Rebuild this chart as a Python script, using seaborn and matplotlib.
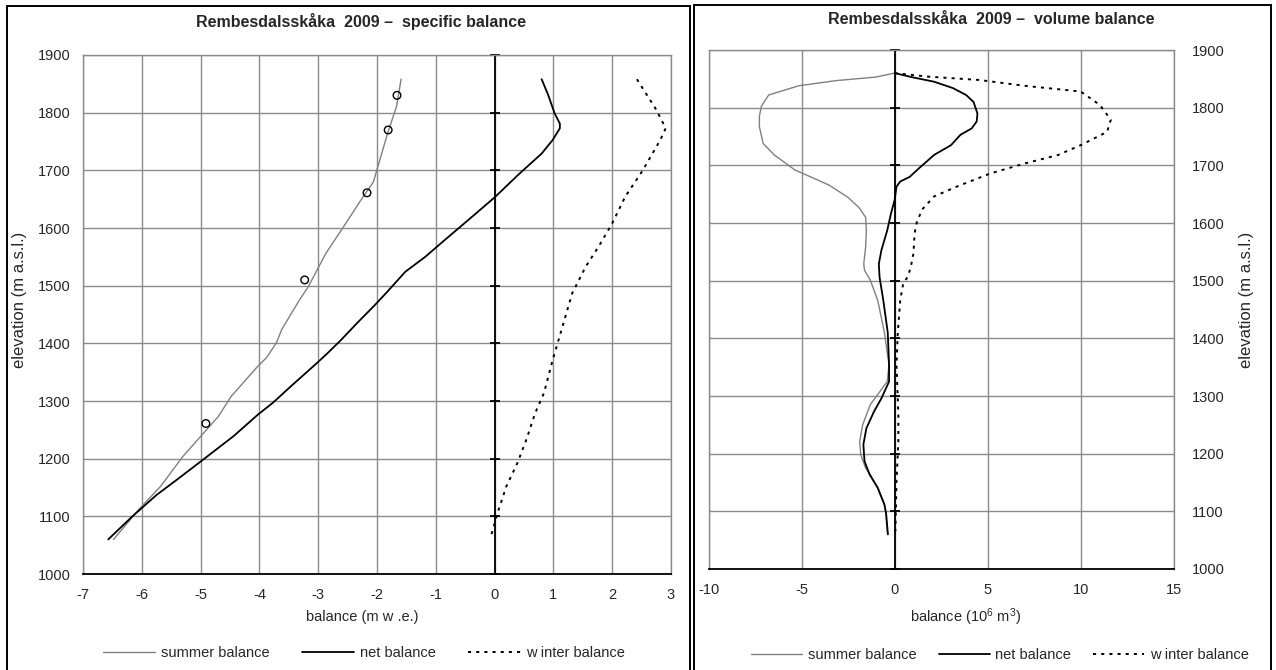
import numpy as np
import pandas as pd
import matplotlib
matplotlib.use("Agg")
import matplotlib.pyplot as plt
from matplotlib.patches import Rectangle
from matplotlib.lines import Line2D
from matplotlib.ticker import MultipleLocator
import seaborn as sns

# ---------------- data ----------------
summer_spec_elev = [1858, 1810, 1764, 1698, 1680, 1649, 1602, 1556, 1498, 1475, 1424, 1401,
                    1375, 1360, 1308, 1273, 1204, 1152, 1112, 1060]
summer_spec = [-1.59, -1.67, -1.82, -2.01, -2.06, -2.27, -2.57, -2.87, -3.17, -3.32, -3.62, -3.71,
               -3.88, -4.03, -4.48, -4.70, -5.30, -5.68, -6.05, -6.48]

net_spec_elev = [1858, 1831, 1799, 1781, 1773, 1753, 1729, 1695, 1654, 1625, 1605, 1579, 1550,
                 1524, 1490, 1466, 1435, 1406, 1384, 1366, 1325, 1297, 1276, 1239, 1195, 1163,
                 1137, 1100, 1060]
net_spec = [0.80, 0.91, 1.02, 1.11, 1.11, 0.99, 0.80, 0.43, 0.01, -0.32, -0.55, -0.85, -1.18,
            -1.52, -1.82, -2.04, -2.34, -2.61, -2.83, -3.02, -3.47, -3.77, -4.03, -4.44, -5.00,
            -5.41, -5.75, -6.16, -6.57]

winter_spec_elev = [1858, 1805, 1773, 1753, 1700, 1654, 1608, 1568, 1533, 1487, 1424, 1372,
                    1314, 1279, 1233, 1193, 1152, 1106, 1066]
winter_spec = [2.42, 2.75, 2.91, 2.82, 2.52, 2.22, 2.00, 1.77, 1.55, 1.32, 1.14, 0.99,
               0.84, 0.69, 0.54, 0.39, 0.20, 0.05, -0.06]

stake_elev = [1830, 1770, 1661, 1510, 1261]
stake_bal = [-1.66, -1.81, -2.17, -3.23, -4.91]

summer_vol_elev = [1860, 1853, 1847, 1838, 1822, 1802, 1785, 1767, 1738, 1718, 1692, 1666,
                   1645, 1627, 1610, 1587, 1558, 1529, 1518, 1501, 1466, 1410, 1354, 1325,
                   1307, 1285, 1250, 1221, 1198, 1175, 1164, 1141, 1112, 1097, 1060]
summer_vol = [0.0, -1.01, -3.13, -5.15, -6.77, -7.17, -7.27, -7.27, -7.07, -6.47, -5.36, -3.54,
              -2.53, -1.92, -1.56, -1.52, -1.56, -1.66, -1.62, -1.31, -0.91, -0.55, -0.30, -0.40,
              -0.81, -1.31, -1.72, -1.88, -1.82, -1.56, -1.31, -0.93, -0.56, -0.48, -0.38]

net_vol_elev = [1860, 1853, 1845, 1834, 1822, 1810, 1790, 1776, 1764, 1753, 1735, 1718, 1695,
                1680, 1672, 1663, 1640, 1616, 1587, 1553, 1529, 1506, 1466, 1410, 1354, 1325,
                1296, 1273, 1244, 1216, 1187, 1164, 1141, 1112, 1097, 1060]
net_vol = [0.0, 0.91, 2.12, 3.13, 3.84, 4.24, 4.45, 4.41, 4.14, 3.54, 3.03, 2.12, 1.31,
           0.81, 0.30, 0.10, 0.0, -0.20, -0.40, -0.71, -0.85, -0.81, -0.61, -0.37, -0.30, -0.30,
           -0.71, -1.11, -1.52, -1.68, -1.62, -1.35, -0.91, -0.55, -0.46, -0.36]

winter_vol_elev = [1860, 1854, 1848, 1838, 1828, 1805, 1779, 1758, 1735, 1718, 1703, 1686,
                   1663, 1646, 1625, 1604, 1581, 1547, 1524, 1507, 1495, 1466, 1410, 1354,
                   1267, 1221, 1152, 1065]
winter_vol = [0.0, 1.72, 4.55, 6.97, 10.0, 11.02, 11.62, 11.42, 10.0, 8.79, 6.97, 5.15,
              3.33, 2.12, 1.52, 1.21, 1.07, 1.01, 0.87, 0.71, 0.46, 0.30, 0.17, 0.10,
              0.20, 0.20, 0.10, 0.04]

yticks = [1000, 1100, 1200, 1300, 1400, 1500, 1600, 1700, 1800, 1900]
xticks_spec = [-7, -6, -5, -4, -3, -2, -1, 0, 1, 2, 3]
xticks_vol = [-10, -5, 0, 5, 10, 15]

legend_labels = ["summer balance", "net balance", "w inter balance"]
title_spec = "Rembesdalsskåka  2009 –  specific balance"
title_vol = "Rembesdalsskåka  2009 –  volume balance"
xlabel_spec = "balance (m w .e.)"
xlabel_vol = "balance (10$^{6}$ m$^{3}$)"
ylabel = "elevation (m a.s.l.)"

# ---------------- style ----------------
sns.set_style("white")
plt.rcParams["font.family"] = ["Liberation Sans", "DejaVu Sans"]
plt.rcParams["axes.unicode_minus"] = False
plt.rcParams["mathtext.fontset"] = "custom"
plt.rcParams["mathtext.rm"] = "Liberation Sans"
plt.rcParams["mathtext.it"] = "Liberation Sans:italic"
plt.rcParams["mathtext.bf"] = "Liberation Sans:bold"

W, H = 1276, 670
fig = plt.figure(figsize=(W / 100, H / 100), dpi=100)
fig.patch.set_facecolor("white")

GRID = "#8a8a8a"
SUMMER = "#808080"
FS = 10.5

def px_axes(x0, y0, x1, y1):
    return fig.add_axes([x0 / W, 1 - y1 / H, (x1 - x0) / W, (y1 - y0) / H])

ax1 = px_axes(83, 55, 671, 574)
ax2 = px_axes(708.6, 50, 1173.7, 569)

winter_ls = (0, (1.6, 2.6))

def draw(ax, s_x, s_y, n_x, n_y, w_x, w_y):
    sns.lineplot(x=s_x, y=s_y, sort=False, estimator=None, color=SUMMER, lw=1.0, ax=ax)
    sns.lineplot(x=n_x, y=n_y, sort=False, estimator=None, color="black", lw=1.3, ax=ax)
    sns.lineplot(x=w_x, y=w_y, sort=False, estimator=None, color="black", lw=1.4,
                 linestyle=winter_ls, ax=ax)

def style(ax, xticks, xlim):
    ax.set_xlim(*xlim)
    ax.set_ylim(1000, 1900)
    ax.set_xticks(xticks)
    ax.set_yticks(yticks)
    ax.grid(True, color=GRID, lw=1.0)
    ax.set_axisbelow(True)
    for s in ["left", "right", "top"]:
        ax.spines[s].set_color(GRID)
        ax.spines[s].set_linewidth(1.0)
    ax.spines["bottom"].set_color("black")
    ax.spines["bottom"].set_linewidth(1.3)
    ax.axvline(0, color="black", lw=1.3, zorder=1.5)
    ax.plot(np.zeros(len(yticks)), yticks, ls="none", marker="_", ms=7, mew=1.3,
            color="black", clip_on=False, zorder=1.6)
    ax.tick_params(axis="x", which="major", direction="inout", length=8, width=1.2,
                   color="black", labelsize=FS, pad=6)
    ax.tick_params(axis="y", length=0, labelsize=FS)
    ax.set_xlabel("")
    ax.set_ylabel("")

# left: specific balance
draw(ax1, summer_spec, summer_spec_elev, net_spec, net_spec_elev, winter_spec, winter_spec_elev)
sns.scatterplot(x=stake_bal, y=stake_elev, marker="o", s=30, facecolor="none",
                edgecolor="black", linewidth=1.0, ax=ax1, zorder=5)
style(ax1, xticks_spec, (-7, 3))
ax1.tick_params(axis="y", pad=9)

# right: volume balance
draw(ax2, summer_vol, summer_vol_elev, net_vol, net_vol_elev, winter_vol, winter_vol_elev)
style(ax2, xticks_vol, (-10, 15))
ax2.xaxis.set_minor_locator(MultipleLocator(1))
ax2.tick_params(axis="x", which="minor", direction="out", length=4, width=1.0, color="black")
ax2.yaxis.tick_right()
ax2.tick_params(axis="y", pad=13, length=0)

# panel boxes
fig.patches.append(Rectangle((7 / W, -0.05), (690 - 7) / W, 1.05 - 6 / H,
                             transform=fig.transFigure, fill=False, ec="black", lw=1.4))
fig.patches.append(Rectangle((694 / W, -0.05), (1270.5 - 694) / W, 1.05 - 5 / H,
                             transform=fig.transFigure, fill=False, ec="black", lw=1.4))

# titles / labels
fig.text(361 / W, 1 - 21 / H, title_spec, ha="center", va="center", fontsize=11.5, fontweight="bold")
fig.text(991 / W, 1 - 20 / H, title_vol, ha="center", va="center", fontsize=11.5, fontweight="bold")
fig.text(362 / W, 1 - 617 / H, xlabel_spec, ha="center", va="center", fontsize=FS)
fig.text(966 / W, 1 - 617 / H, xlabel_vol, ha="center", va="center", fontsize=FS)
fig.text(20 / W, 1 - 300 / H, ylabel, ha="center", va="center", rotation=90, fontsize=12)
fig.text(1247 / W, 1 - 300 / H, ylabel, ha="center", va="center", rotation=90, fontsize=12)

# legends
def handles():
    return [Line2D([], [], color=SUMMER, lw=1.0),
            Line2D([], [], color="black", lw=1.3),
            Line2D([], [], color="black", lw=1.4, linestyle=winter_ls)]

fig.legend(handles(), legend_labels, loc="center", bbox_to_anchor=(364 / W, 1 - 653 / H),
           ncol=3, frameon=False, fontsize=FS, handlelength=3.6, handletextpad=0.4,
           columnspacing=2.2, borderpad=0)
fig.legend(handles(), legend_labels, loc="center", bbox_to_anchor=(1000 / W, 1 - 655 / H),
           ncol=3, frameon=False, fontsize=FS, handlelength=3.5, handletextpad=0.4,
           columnspacing=1.5, borderpad=0)

fig.savefig("out.png", dpi=100, facecolor="white")
